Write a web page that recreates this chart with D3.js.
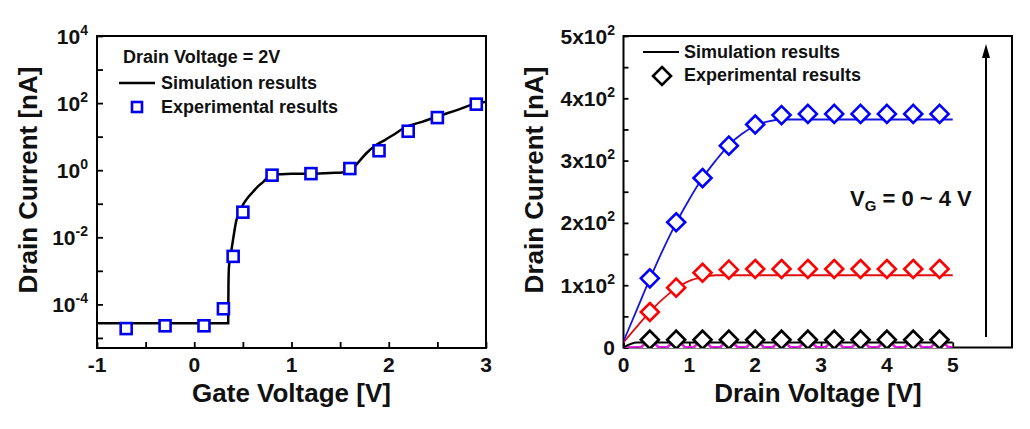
<!DOCTYPE html>
<html><head><meta charset="utf-8">
<script src="https://cdn.jsdelivr.net/npm/d3@7"></script>
<style>
body{margin:0;background:#fff;}
svg text{font-family:Arial,"Liberation Sans",sans-serif;font-weight:bold;fill:#111;}
</style></head><body>
<svg id="c" width="1030" height="429"></svg>
<script>
// ---------- Left panel data (transfer curve, Vd = 2 V) ----------
const gateV = [-0.7, -0.3, 0.1, 0.3, 0.4, 0.5, 0.8, 1.2, 1.6, 1.9, 2.2, 2.5, 2.9];
const gateI = [1.9e-5, 2.3e-5, 2.3e-5, 7.4e-5, 2.7e-3, 5.6e-2, 0.71, 0.79, 1.12, 3.8, 14.5, 37, 93];
const simGateV = [-1, 0.349, 0.352, 0.357, 0.37, 0.382, 0.40, 0.433, 0.47, 0.50, 0.55, 0.60, 0.65, 0.71, 0.79, 0.9, 1.0, 1.2, 1.4, 1.58, 1.63, 1.70, 1.77, 1.87, 1.96, 2.04, 2.18, 2.35, 2.49, 2.70, 2.90, 3.0];
const simGateI = [2.75e-5, 2.75e-5, 4.2e-4, 1.3e-3, 2.5e-3, 4.1e-3, 8.9e-3, 3.2e-2, 5.6e-2, 9.1e-2, 0.15, 0.22, 0.32, 0.45, 0.71, 0.76, 0.78, 0.79, 0.83, 0.89, 1.12, 1.9, 3.2, 5.6, 7.9, 11, 19.5, 28, 39, 62, 98, 110];
const leftXTicks = [-1, 0, 1, 2, 3];
const leftXMinor = [-0.5, 0.5, 1.5, 2.5];
const leftYExp = [-5, -4, -3, -2, -1, 0, 1, 2, 3, 4];
const leftYLabelExp = [-4, -2, 0, 2, 4];

// ---------- Right panel data (output curves) ----------
const drainV = [0.4, 0.8, 1.2, 1.6, 2.0, 2.4, 2.8, 3.2, 3.6, 4.0, 4.4, 4.8];
const expBlue = [111, 201, 272, 324, 358, 373, 375, 375, 375, 375, 375, 375];
const expRed = [57, 96, 120, 125, 126, 126, 126, 126, 126, 126, 126, 126];
const expBlack = [12.5, 12.5, 12.5, 12.5, 12.5, 12.5, 12.5, 12.5, 12.5, 12.5, 12.5, 12.5];
const expMagenta = [0, 0, 0, 0, 0, 0, 0, 0, 0, 0, 0, 0];
const simDrainV = [0, 0.2, 0.4, 0.6, 0.8, 1.0, 1.2, 1.4, 1.6, 1.8, 2.0, 2.2, 2.4, 2.6, 3.0, 4.0, 5.0];
const simBlue = [10, 60, 110, 157, 200, 238, 272, 300, 325, 343, 356, 363, 366, 366, 366, 366, 366];
const simRed = [8, 33, 57, 78, 95, 107, 113, 116, 116, 116, 116, 116, 116, 116, 116, 116, 116];
const simBlack = [0, 8, 8, 8, 8, 8, 8, 8, 8, 8, 8, 8, 8, 8, 8, 8, 8];
const simMagenta = [0, 1, 1, 1, 1, 1, 1, 1, 1, 1, 1, 1, 1, 1, 1, 1, 1];
const rightXTicks = [0, 1, 2, 3, 4, 5];
const rightYTicks = [0, 100, 200, 300, 400, 500];
const rightYMinor = [50, 150, 250, 350, 450];
const rightYLabels = ["0", "1x10", "2x10", "3x10", "4x10", "5x10"];

const svg = d3.select("#c");

function superLabel(g, x, y, base, sup, anchor) {
  const t = g.append("text").attr("x", x).attr("y", y).attr("text-anchor", anchor).style("font-size", "21px");
  t.append("tspan").text(base);
  if (sup !== null) t.append("tspan").attr("dy", -9).style("font-size", "14px").text(sup);
  return t;
}

// ================= LEFT PANEL =================
const xL = d3.scaleLinear().domain([-1, 3]).range([97, 486]);
const yL = d3.scaleLog().domain([Math.pow(10, -5.3), 1e4]).range([348, 36]);
const gL = svg.append("g");

gL.append("g").attr("transform", "translate(0,348)")
  .call(d3.axisBottom(xL).tickValues(leftXTicks.concat(leftXMinor)).tickSize(-6).tickSizeOuter(0).tickFormat(""))
  .call(g => { g.select(".domain").remove(); g.selectAll("line").attr("stroke", "#000").attr("stroke-width", 1.8); });
gL.append("g").attr("transform", "translate(97,0)")
  .call(d3.axisLeft(yL).tickValues(leftYExp.map(e => Math.pow(10, e))).tickSize(-6).tickSizeOuter(0).tickFormat(""))
  .call(g => { g.select(".domain").remove(); g.selectAll("line").attr("stroke", "#000").attr("stroke-width", 1.8); });

leftXTicks.forEach(v => {
  gL.append("text").attr("x", xL(v)).attr("y", 372).attr("text-anchor", "middle").style("font-size", "21px").text(v < 0 ? "-" + Math.abs(v) : String(v));
});
leftYLabelExp.forEach(e => {
  superLabel(gL, 88, yL(Math.pow(10, e)) + 7.5, "10", String(e), "end");
});

gL.append("rect").attr("x", 97).attr("y", 36).attr("width", 389).attr("height", 312)
  .attr("fill", "none").attr("stroke", "#000").attr("stroke-width", 2);

const lineL = d3.line().x(d => xL(d[0])).y(d => yL(d[1])).curve(d3.curveMonotoneX);
gL.append("path").datum(simGateV.map((v, i) => [v, simGateI[i]]))
  .attr("d", lineL).attr("fill", "none").attr("stroke", "#000").attr("stroke-width", 2.5);

gL.selectAll("rect.sq").data(gateV.map((v, i) => [v, gateI[i]])).enter().append("rect")
  .attr("class", "sq").attr("x", d => xL(d[0]) - 5.5).attr("y", d => yL(d[1]) - 5.5)
  .attr("width", 11).attr("height", 11).attr("fill", "#fff").attr("stroke", "#0000ee").attr("stroke-width", 2.6);

// legend
gL.append("text").attr("x", 123).attr("y", 63).style("font-size", "18px").text("Drain Voltage = 2V");
gL.append("line").attr("x1", 119).attr("x2", 155).attr("y1", 83).attr("y2", 83).attr("stroke", "#000").attr("stroke-width", 2.5);
gL.append("text").attr("x", 161).attr("y", 89).style("font-size", "18px").text("Simulation results");
gL.append("rect").attr("x", 132).attr("y", 102).attr("width", 10).attr("height", 10).attr("fill", "#fff").attr("stroke", "#0000ee").attr("stroke-width", 2.6);
gL.append("text").attr("x", 161).attr("y", 113).style("font-size", "18px").text("Experimental results");

// axis titles
gL.append("text").attr("x", 291.5).attr("y", 402).attr("text-anchor", "middle").style("font-size", "26px").text("Gate Voltage [V]");
gL.append("text").attr("transform", "translate(37,180) rotate(-90)").attr("text-anchor", "middle").style("font-size", "26px").text("Drain Current [nA]");

// ================= RIGHT PANEL =================
const xR = d3.scaleLinear().domain([0, 5.9]).range([623.5, 1012]);
const yR = d3.scaleLinear().domain([0, 500]).range([347.5, 36]);
const gR = svg.append("g");

svg.append("defs").append("clipPath").attr("id", "clipR").append("rect")
  .attr("x", 623.5).attr("y", 36).attr("width", 388.5).attr("height", 312);

gR.append("g").attr("transform", "translate(0,347.5)")
  .call(d3.axisBottom(xR).tickValues(rightXTicks).tickSize(-5).tickSizeOuter(0).tickFormat(""))
  .call(g => { g.select(".domain").remove(); g.selectAll("line").attr("stroke", "#000").attr("stroke-width", 1.8); });
gR.append("g").attr("transform", "translate(623.5,0)")
  .call(d3.axisLeft(yR).tickValues(rightYTicks.concat(rightYMinor)).tickSize(-5).tickSizeOuter(0).tickFormat(""))
  .call(g => { g.select(".domain").remove(); g.selectAll("line").attr("stroke", "#000").attr("stroke-width", 1.8); });

rightXTicks.forEach(v => {
  gR.append("text").attr("x", xR(v)).attr("y", 372).attr("text-anchor", "middle").style("font-size", "21px").text(String(v));
});
rightYTicks.forEach((v, i) => {
  superLabel(gR, 615, yR(v) + 7.5, rightYLabels[i], v === 0 ? null : "2", "end");
});

gR.append("rect").attr("x", 623.5).attr("y", 36).attr("width", 388.5).attr("height", 311.5)
  .attr("fill", "none").attr("stroke", "#000").attr("stroke-width", 2);

const dataR = gR.append("g").attr("clip-path", "url(#clipR)");
const lineR = d3.line().x(d => xR(d[0])).y(d => yR(d[1])).curve(d3.curveMonotoneX);
const diamond = "M0,-9L9,0L0,9L-9,0Z";
const series = [
  {sim: simMagenta, exp: expMagenta, line: "#e020e0", mk: "#e020e0"},
  {sim: simBlack, exp: expBlack, line: "#000", mk: "#000"},
  {sim: simRed, exp: expRed, line: "#e01010", mk: "#ff0000"},
  {sim: simBlue, exp: expBlue, line: "#1515e0", mk: "#0000ff"}
];
series.forEach(s => {
  dataR.append("path").datum(simDrainV.map((v, i) => [v, s.sim[i]]))
    .attr("d", lineR).attr("fill", "none").attr("stroke", s.line).attr("stroke-width", 1.8);
});
series.forEach(s => {
  dataR.selectAll(null).data(drainV.map((v, i) => [v, s.exp[i]])).enter().append("path")
    .attr("d", diamond).attr("transform", d => `translate(${xR(d[0])},${yR(d[1])})`)
    .attr("fill", "#fff").attr("stroke", s.mk).attr("stroke-width", 2.6);
});

// legend
gR.append("line").attr("x1", 643).attr("x2", 679).attr("y1", 52).attr("y2", 52).attr("stroke", "#000").attr("stroke-width", 1.8);
gR.append("text").attr("x", 684).attr("y", 58).style("font-size", "18px").text("Simulation results");
gR.append("path").attr("d", diamond).attr("transform", "translate(662,76)").attr("fill", "#fff").attr("stroke", "#000").attr("stroke-width", 2.6);
gR.append("text").attr("x", 684).attr("y", 81).style("font-size", "18px").text("Experimental results");

// arrow + annotation
gR.append("line").attr("x1", 986).attr("x2", 986).attr("y1", 337).attr("y2", 55).attr("stroke", "#000").attr("stroke-width", 2);
gR.append("path").attr("d", "M986,44L982,58L990,58Z").attr("fill", "#000");
const vg = gR.append("text").attr("x", 850).attr("y", 206).style("font-size", "22px");
vg.append("tspan").text("V");
vg.append("tspan").attr("dy", 5).style("font-size", "15px").text("G");
vg.append("tspan").attr("dy", -5).text(" = 0 ~ 4 V");

// axis titles
gR.append("text").attr("x", 818).attr("y", 402).attr("text-anchor", "middle").style("font-size", "26px").text("Drain Voltage [V]");
gR.append("text").attr("transform", "translate(543,180) rotate(-90)").attr("text-anchor", "middle").style("font-size", "26px").text("Drain Current [nA]");
</script>
</body></html>
